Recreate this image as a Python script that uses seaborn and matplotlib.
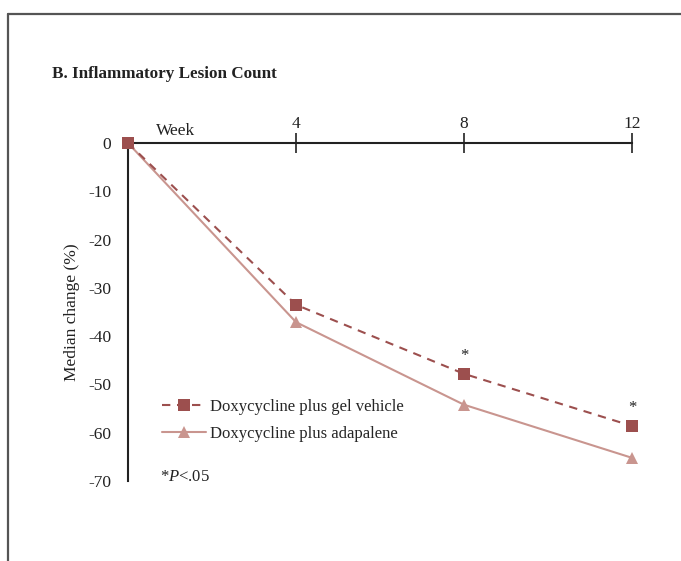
import matplotlib
matplotlib.use("Agg")
import matplotlib.pyplot as plt
from matplotlib.lines import Line2D
import seaborn as sns
import pandas as pd

weeks = [0, 4, 8, 12]
gel_vehicle = [0, -33.5, -47.8, -58.6]
adapalene = [0, -37.1, -54.2, -65.2]
groups = ["Doxycycline plus gel vehicle", "Doxycycline plus adapalene"]
significant_weeks = [8, 12]
y_ticks = [0, -10, -20, -30, -40, -50, -60, -70]
x_ticks = [4, 8, 12]

df = pd.DataFrame({
    "week": weeks * 2,
    "change": gel_vehicle + adapalene,
    "group": [groups[0]] * len(weeks) + [groups[1]] * len(weeks),
})

sns.set_style("white")
plt.rcParams["font.family"] = ["Liberation Serif", "DejaVu Serif"]
plt.rcParams["mathtext.fontset"] = "custom"
plt.rcParams["mathtext.it"] = "Liberation Serif:italic"
plt.rcParams["mathtext.rm"] = "Liberation Serif"

colors = {groups[0]: "#9c4f4e", groups[1]: "#c9958f"}

fig = plt.figure(figsize=(6.81, 5.61), dpi=100)
ax = fig.add_axes([0.188, 0.1426, 0.74, 0.6024])

sns.lineplot(data=df, x="week", y="change", hue="group", style="group",
             palette=colors, markers={groups[0]: "s", groups[1]: "^"},
             dashes={groups[0]: (4, 3.2), groups[1]: ""},
             markeredgewidth=0, markersize=9, linewidth=1.5,
             legend=False, ax=ax)
for ln in ax.lines:
    ln.set_clip_on(False)
ax.lines[0].set_zorder(5)
ax.lines[1].set_zorder(4)

ax.set_xlim(0, 12)
ax.set_ylim(-70, 0)
ax.set_xticks(x_ticks)
ax.set_yticks(y_ticks)
ax.set_yticklabels([str(v) for v in y_ticks])
ax.xaxis.tick_top()
ax.tick_params(axis="x", direction="inout", length=14, width=1.2,
               labelsize=12.5, pad=1, colors="#222222")
ax.tick_params(axis="y", direction="out", length=7, width=1.2,
               labelsize=12.5, pad=5, colors="#222222")
for s in ["right", "bottom"]:
    ax.spines[s].set_visible(False)
for s in ["left", "top"]:
    ax.spines[s].set_linewidth(1.5)
    ax.spines[s].set_color("#222222")
ax.set_xlabel("")
ax.set_ylabel("Median change (%)", fontsize=12.5, labelpad=6, color="#222222")

ax.text(0.055, 1.012, "Week", transform=ax.transAxes, fontsize=12.5,
        va="bottom", ha="left", color="#222222")

for w in significant_weeks:
    y = gel_vehicle[weeks.index(w)]
    ax.annotate("*", (w, y), xytext=(0, 7), textcoords="offset points",
                ha="center", va="bottom", fontsize=12, color="#222222")

handles = [
    Line2D([], [], color=colors[groups[0]], linestyle=(0, (4, 3.2)),
           linewidth=1.5, marker="s", markersize=9, markeredgewidth=0),
    Line2D([], [], color=colors[groups[1]], linestyle="-", linewidth=1.5,
           marker="^", markersize=9, markeredgewidth=0),
]
ax.legend(handles, groups, loc="upper left", bbox_to_anchor=(0.055, 0.262),
          frameon=False, fontsize=12, handlelength=2.6, handletextpad=0.25,
          labelspacing=0.65, borderaxespad=0)

ax.text(0.063, 0.012, r"*$\it{P}$<.05", transform=ax.transAxes,
        fontsize=12, ha="left", va="center", color="#222222")

fig.text(0.076, 0.868, "B. Inflammatory Lesion Count", fontsize=12.3,
         fontweight="bold", ha="left", va="center", color="#222222")

# gray frame around the panel
fig.add_artist(Line2D([8 / 681, 1], [1 - 14 / 561, 1 - 14 / 561],
                      transform=fig.transFigure, color="#555555", lw=1.6))
fig.add_artist(Line2D([8 / 681, 8 / 681], [0, 1 - 14 / 561],
                      transform=fig.transFigure, color="#555555", lw=1.6))

fig.savefig("out.png", dpi=100)
